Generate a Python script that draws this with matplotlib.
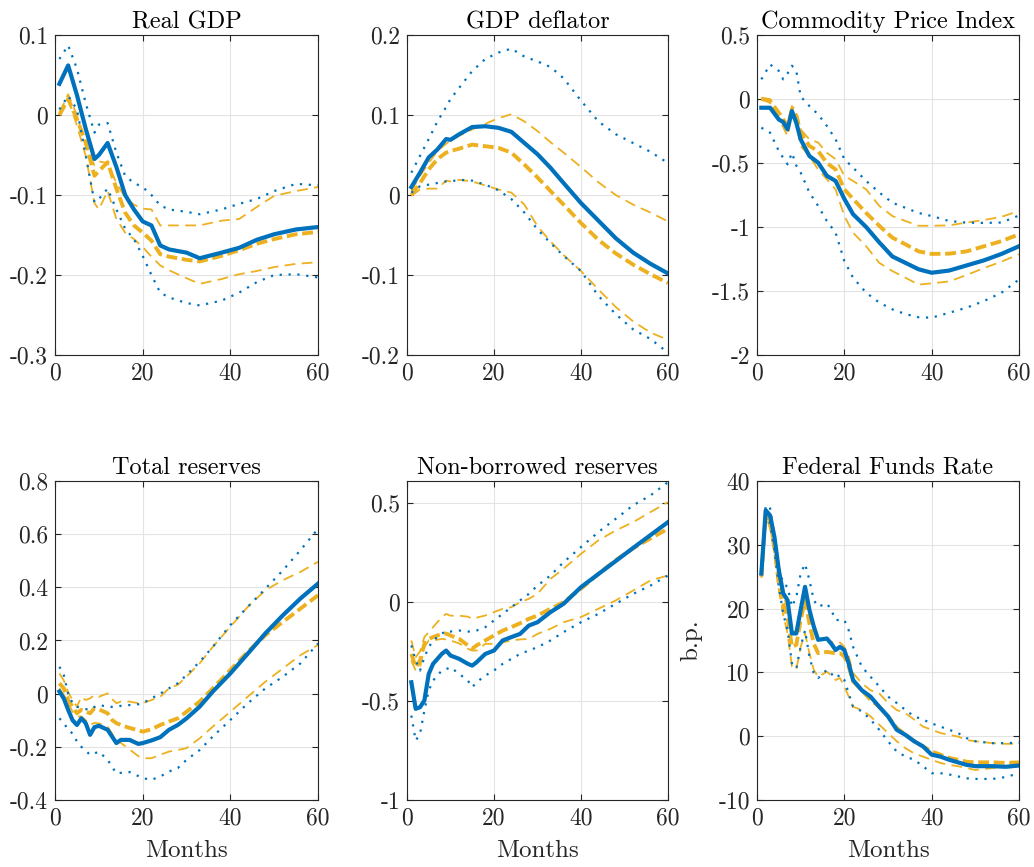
import numpy as np
import matplotlib
matplotlib.use('Agg')
import matplotlib.pyplot as plt
from matplotlib.ticker import FuncFormatter

plt.rcParams['font.family'] = ['cmr10', 'DejaVu Serif']
plt.rcParams['axes.unicode_minus'] = False

BLUE = '#0072BD'
ORANGE = '#EDB120'
DARK = '#262626'

# ---- Real GDP ----
gdp_m = [1, 3, 5, 7, 9, 10, 12, 14, 16, 18, 20, 22, 24, 26, 30, 33, 38, 42, 46, 50, 55, 60]
gdp_b_med = [0.039, 0.062, 0.025, -0.017, -0.055, -0.050, -0.035, -0.065, -0.100, -0.118, -0.133,
             -0.138, -0.163, -0.168, -0.172, -0.179, -0.172, -0.166, -0.156, -0.149, -0.143, -0.140]
gdp_b_hi = [0.070, 0.087, 0.058, 0.015, -0.022, -0.012, -0.010, -0.047, -0.076, -0.085, -0.090,
            -0.100, -0.113, -0.118, -0.121, -0.124, -0.118, -0.111, -0.105, -0.095, -0.086, -0.088]
gdp_b_lo = [0.007, 0.024, 0.007, -0.050, -0.109, -0.105, -0.092, -0.118, -0.142, -0.155, -0.176,
            -0.200, -0.222, -0.228, -0.235, -0.238, -0.232, -0.222, -0.209, -0.200, -0.199, -0.203]
gdp_o_med = [0.000, 0.020, -0.005, -0.034, -0.076, -0.070, -0.059, -0.092, -0.122, -0.138, -0.147,
             -0.157, -0.174, -0.177, -0.181, -0.183, -0.176, -0.169, -0.161, -0.155, -0.149, -0.146]
gdp_o_hi = [0.003, 0.026, 0.000, -0.038, -0.063, -0.058, -0.060, -0.085, -0.103, -0.112, -0.117,
            -0.118, -0.138, -0.138, -0.138, -0.138, -0.132, -0.130, -0.115, -0.101, -0.095, -0.090]
gdp_o_lo = [0.001, 0.020, -0.013, -0.051, -0.110, -0.118, -0.095, -0.130, -0.147, -0.155, -0.165,
            -0.177, -0.188, -0.194, -0.204, -0.211, -0.205, -0.199, -0.195, -0.190, -0.186, -0.184]

# ---- GDP deflator ----
def_m = [1, 3, 5, 7, 9, 10, 12, 15, 18, 21, 24, 27, 30, 33, 36, 40, 44, 48, 52, 56, 60]
def_b_med = [0.010, 0.028, 0.047, 0.057, 0.070, 0.069, 0.076, 0.085, 0.086, 0.084, 0.079, 0.065,
             0.051, 0.034, 0.015, -0.010, -0.032, -0.054, -0.072, -0.086, -0.098]
def_b_hi = [0.028, 0.049, 0.070, 0.092, 0.110, 0.120, 0.134, 0.155, 0.170, 0.178, 0.183, 0.173,
            0.167, 0.160, 0.146, 0.118, 0.092, 0.076, 0.065, 0.054, 0.040]
def_b_lo = [0.003, 0.011, 0.013, 0.015, 0.017, 0.017, 0.019, 0.018, 0.013, 0.006, -0.005, -0.022,
            -0.043, -0.060, -0.076, -0.095, -0.126, -0.149, -0.168, -0.180, -0.197]
def_o_med = [0.000, 0.015, 0.032, 0.045, 0.053, 0.055, 0.058, 0.063, 0.061, 0.059, 0.053, 0.038,
             0.022, 0.005, -0.012, -0.035, -0.056, -0.073, -0.087, -0.099, -0.110]
def_o_hi = [0.005, 0.024, 0.040, 0.055, 0.064, 0.068, 0.074, 0.082, 0.089, 0.096, 0.101, 0.092,
            0.080, 0.066, 0.053, 0.035, 0.016, 0.000, -0.012, -0.022, -0.033]
def_o_lo = [-0.001, 0.007, 0.008, 0.008, 0.018, 0.017, 0.019, 0.017, 0.012, 0.007, 0.003, -0.012,
            -0.039, -0.058, -0.075, -0.095, -0.118, -0.140, -0.158, -0.172, -0.181]

# ---- Commodity Price Index ----
com_m = [1, 3, 5, 6, 7, 8, 9, 10, 12, 14, 16, 18, 20, 22, 25, 28, 31, 34, 37, 40, 44, 48, 52, 56, 60]
com_b_med = [-0.068, -0.068, -0.160, -0.180, -0.237, -0.094, -0.185, -0.315, -0.445, -0.497, -0.600,
             -0.640, -0.780, -0.900, -1.000, -1.120, -1.230, -1.280, -1.330, -1.357, -1.340, -1.300,
             -1.260, -1.210, -1.150]
com_b_hi = [0.154, 0.270, 0.220, 0.154, 0.200, 0.260, 0.220, 0.020, -0.055, -0.120, -0.210, -0.315,
            -0.470, -0.536, -0.640, -0.730, -0.810, -0.850, -0.890, -0.914, -0.953, -0.966, -0.968,
            -0.965, -0.910]
com_b_lo = [-0.224, -0.263, -0.406, -0.460, -0.510, -0.420, -0.520, -0.575, -0.730, -0.835, -0.953,
            -1.044, -1.265, -1.396, -1.513, -1.590, -1.643, -1.680, -1.705, -1.708, -1.670, -1.630,
            -1.578, -1.513, -1.410]
com_o_med = [0.000, -0.015, -0.120, -0.160, -0.210, -0.080, -0.130, -0.263, -0.367, -0.406, -0.500,
             -0.550, -0.706, -0.780, -0.890, -0.990, -1.083, -1.135, -1.190, -1.210, -1.208, -1.190,
             -1.150, -1.110, -1.057]
com_o_hi = [0.010, 0.000, -0.094, -0.140, -0.200, -0.055, -0.094, -0.237, -0.315, -0.340, -0.420,
            -0.470, -0.600, -0.640, -0.706, -0.835, -0.914, -0.953, -0.990, -0.990, -0.987, -0.965,
            -0.945, -0.920, -0.875]
com_o_lo = [0.000, -0.030, -0.146, -0.220, -0.290, -0.120, -0.190, -0.367, -0.445, -0.550, -0.627,
            -0.706, -0.914, -1.044, -1.150, -1.280, -1.344, -1.396, -1.450, -1.440, -1.425, -1.375,
            -1.320, -1.270, -1.213]

# ---- Total reserves ----
tr_m = [1, 2, 3, 4, 5, 6, 7, 8, 9, 10, 12, 13, 14, 15, 17, 19, 20, 22, 24, 26, 28, 30, 33, 36,
        40, 44, 48, 52, 56, 60]
tr_b_med = [0.008, -0.018, -0.061, -0.100, -0.118, -0.093, -0.111, -0.155, -0.126, -0.121, -0.136,
            -0.161, -0.186, -0.174, -0.174, -0.189, -0.186, -0.176, -0.164, -0.136, -0.118, -0.093,
            -0.049, 0.008, 0.076, 0.151, 0.227, 0.295, 0.358, 0.414]
tr_b_hi = [0.101, 0.070, 0.000, -0.036, -0.049, -0.055, -0.058, -0.061, -0.050, -0.043, -0.049,
           -0.050, -0.049, -0.046, -0.043, -0.040, -0.036, -0.018, 0.000, 0.020, 0.039, 0.070,
           0.120, 0.176, 0.258, 0.327, 0.395, 0.464, 0.540, 0.620]
tr_b_lo = [-0.093, -0.110, -0.136, -0.150, -0.180, -0.200, -0.215, -0.230, -0.225, -0.218, -0.249,
           -0.275, -0.300, -0.298, -0.295, -0.310, -0.318, -0.324, -0.312, -0.293, -0.280, -0.249,
           -0.212, -0.161, -0.099, -0.036, 0.020, 0.064, 0.114, 0.189]
tr_o_med = [0.039, 0.020, -0.024, -0.049, -0.074, -0.061, -0.068, -0.074, -0.055, -0.059, -0.074,
            -0.099, -0.111, -0.118, -0.129, -0.138, -0.143, -0.134, -0.118, -0.105, -0.093, -0.068,
            -0.030, 0.020, 0.089, 0.158, 0.220, 0.270, 0.320, 0.370]
tr_o_hi = [0.076, 0.050, 0.005, -0.024, -0.049, -0.012, -0.024, -0.018, -0.005, -0.012, 0.001,
           -0.020, -0.036, -0.030, -0.030, -0.036, -0.036, -0.024, -0.012, 0.020, 0.033, 0.064,
           0.114, 0.176, 0.252, 0.327, 0.389, 0.427, 0.458, 0.496]
tr_o_lo = [0.020, -0.005, -0.036, -0.068, -0.086, -0.086, -0.100, -0.118, -0.110, -0.112, -0.124,
           -0.150, -0.180, -0.185, -0.210, -0.235, -0.243, -0.243, -0.230, -0.218, -0.212, -0.205,
           -0.168, -0.124, -0.068, -0.011, 0.045, 0.095, 0.145, 0.183]

# ---- Non-borrowed reserves ----
nbr_m = [1, 2, 3, 4, 5, 6, 8, 9, 10, 12, 14, 15, 16, 18, 20, 22, 24, 26, 28, 30, 33, 36, 40, 44,
         48, 52, 56, 60]
nbr_b_med = [-0.406, -0.540, -0.532, -0.498, -0.364, -0.313, -0.263, -0.246, -0.271, -0.288, -0.313,
             -0.322, -0.305, -0.263, -0.246, -0.195, -0.178, -0.162, -0.120, -0.103, -0.052, -0.010,
             0.074, 0.140, 0.206, 0.272, 0.337, 0.402]
nbr_b_hi = [-0.220, -0.296, -0.347, -0.280, -0.229, -0.195, -0.162, -0.145, -0.150, -0.145, -0.150,
            -0.150, -0.145, -0.128, -0.094, -0.061, -0.027, 0.007, 0.040, 0.082, 0.133, 0.200,
            0.276, 0.352, 0.419, 0.487, 0.537, 0.604]
nbr_b_lo = [-0.574, -0.700, -0.667, -0.549, -0.448, -0.397, -0.347, -0.340, -0.330, -0.364, -0.397,
            -0.431, -0.406, -0.372, -0.347, -0.313, -0.288, -0.263, -0.246, -0.229, -0.195, -0.153,
            -0.103, -0.061, -0.010, 0.040, 0.082, 0.133]
nbr_o_med = [-0.263, -0.330, -0.296, -0.212, -0.187, -0.178, -0.162, -0.160, -0.170, -0.187, -0.220,
             -0.237, -0.220, -0.195, -0.170, -0.145, -0.128, -0.108, -0.086, -0.069, -0.035, -0.002,
             0.066, 0.141, 0.210, 0.270, 0.320, 0.369]
nbr_o_hi = [-0.195, -0.280, -0.250, -0.178, -0.153, -0.128, -0.077, -0.061, -0.070, -0.070, -0.075,
            -0.086, -0.080, -0.069, -0.052, -0.035, -0.027, -0.002, 0.015, 0.040, 0.116, 0.167,
            0.242, 0.310, 0.360, 0.402, 0.453, 0.503]
nbr_o_lo = [-0.296, -0.347, -0.330, -0.229, -0.195, -0.195, -0.187, -0.190, -0.195, -0.210, -0.237,
            -0.246, -0.246, -0.212, -0.212, -0.205, -0.195, -0.190, -0.187, -0.162, -0.136, -0.103,
            -0.077, -0.035, 0.007, 0.057, 0.108, 0.133]

# ---- Federal Funds Rate ----
ffr_m = [1, 2, 3, 4, 5, 6, 7, 8, 9, 10, 11, 12, 13, 14, 16, 17, 18, 19, 20, 21, 22, 24, 26, 28,
         30, 32, 34, 36, 38, 40, 42, 44, 46, 48, 50, 54, 57, 60]
ffr_b_med = [25.5, 35.4, 34.6, 31.2, 26.0, 22.4, 21.3, 16.1, 16.1, 19.8, 23.4, 19.8, 17.2, 15.1,
             15.3, 14.5, 13.5, 14.0, 13.5, 11.4, 8.8, 7.2, 6.2, 4.6, 3.1, 1.0, 0.2, -0.8, -1.6,
             -2.9, -3.2, -3.7, -4.1, -4.5, -4.7, -4.7, -4.8, -4.6]
ffr_b_hi = [25.8, 36.2, 35.7, 31.2, 26.5, 23.9, 23.4, 20.3, 21.8, 25.5, 27.0, 24.5, 21.3, 20.3,
            20.8, 19.8, 18.2, 18.2, 18.2, 16.6, 14.0, 10.9, 9.3, 7.8, 6.2, 5.2, 4.1, 3.1, 2.6,
            2.0, 1.5, 1.0, 0.5, -0.3, -0.8, -1.1, -1.1, -1.0]
ffr_b_lo = [25.2, 34.9, 33.3, 29.1, 23.4, 19.2, 16.6, 11.4, 10.6, 14.0, 16.6, 12.5, 9.9, 9.1,
            10.4, 9.8, 9.1, 9.6, 8.8, 6.7, 4.6, 3.9, 2.6, 1.0, -0.8, -2.4, -3.2, -3.7, -4.7,
            -5.8, -5.8, -6.0, -6.3, -6.6, -6.7, -6.7, -6.4, -5.8]
ffr_o_med = [25.0, 34.9, 33.8, 29.7, 23.9, 20.8, 18.7, 14.0, 14.3, 18.2, 21.3, 17.7, 14.5, 13.0,
             13.2, 13.1, 13.0, 13.0, 12.5, 10.9, 8.6, 7.2, 5.7, 4.6, 3.1, 1.3, 0.2, -0.8, -1.6,
             -2.4, -2.9, -3.4, -3.7, -4.0, -4.1, -4.1, -4.2, -4.1]
ffr_o_hi = [25.3, 35.1, 34.6, 30.7, 25.0, 21.8, 20.3, 16.1, 16.6, 20.3, 22.9, 19.8, 16.6, 15.1,
            15.1, 14.8, 14.5, 14.7, 14.0, 12.5, 9.9, 8.3, 7.2, 6.7, 5.2, 4.1, 3.6, 2.6, 1.5,
            1.0, 0.5, 0.2, -0.05, -0.6, -0.8, -1.1, -1.2, -1.2]
ffr_o_lo = [24.8, 34.6, 32.5, 28.4, 22.9, 19.0, 16.1, 10.9, 10.4, 14.0, 16.1, 13.0, 10.4, 9.3,
            10.1, 9.5, 8.8, 9.1, 7.8, 6.2, 4.6, 4.1, 3.1, 1.8, 0.5, -0.8, -1.9, -2.7, -3.2,
            -3.7, -4.2, -4.5, -4.7, -5.0, -5.3, -5.0, -4.8, -4.7]

panels = [
    ('Real GDP', gdp_m, gdp_b_med, gdp_b_hi, gdp_b_lo, gdp_o_med, gdp_o_hi, gdp_o_lo,
     (-0.3, 0.1), np.arange(-0.3, 0.11, 0.1)),
    ('GDP deflator', def_m, def_b_med, def_b_hi, def_b_lo, def_o_med, def_o_hi, def_o_lo,
     (-0.2, 0.2), np.arange(-0.2, 0.21, 0.1)),
    ('Commodity Price Index', com_m, com_b_med, com_b_hi, com_b_lo, com_o_med, com_o_hi, com_o_lo,
     (-2, 0.5), np.arange(-2, 0.51, 0.5)),
    ('Total reserves', tr_m, tr_b_med, tr_b_hi, tr_b_lo, tr_o_med, tr_o_hi, tr_o_lo,
     (-0.4, 0.8), np.arange(-0.4, 0.81, 0.2)),
    ('Non-borrowed reserves', nbr_m, nbr_b_med, nbr_b_hi, nbr_b_lo, nbr_o_med, nbr_o_hi, nbr_o_lo,
     (-1, 0.61), np.arange(-1, 0.51, 0.5)),
    ('Federal Funds Rate', ffr_m, ffr_b_med, ffr_b_hi, ffr_b_lo, ffr_o_med, ffr_o_hi, ffr_o_lo,
     (-10, 40), np.arange(-10, 41, 10)),
]

fig = plt.figure(figsize=(10.34, 8.67), dpi=100)
lefts = [0.0532, 0.3936, 0.7321]
widths = [0.2544, 0.2524, 0.2534]
bottoms = [0.5905, 0.0773]
heights = [0.3691, 0.368]

fmt = FuncFormatter(lambda v, p: '%g' % round(v, 6))

for i, (title, m, bmed, bhi, blo, omed, ohi, olo, ylim, yt) in enumerate(panels):
    r, c = divmod(i, 3)
    ax = fig.add_axes([lefts[c], bottoms[r], widths[c], heights[r]])
    # orange (second model)
    ax.plot(m, ohi, color=ORANGE, lw=1.3, dashes=(6, 3.5))
    ax.plot(m, olo, color=ORANGE, lw=1.3, dashes=(6, 3.5))
    ax.plot(m, omed, color=ORANGE, lw=2.8, dashes=(2.8, 1.2))
    # blue (baseline)
    ax.plot(m, bhi, color=BLUE, lw=1.6, dashes=(1, 3))
    ax.plot(m, blo, color=BLUE, lw=1.6, dashes=(1, 3))
    ax.plot(m, bmed, color=BLUE, lw=3.0)

    ax.set_xlim(0, 60)
    ax.set_ylim(*ylim)
    ax.set_xticks([0, 20, 40, 60])
    ax.set_yticks(yt)
    ax.yaxis.set_major_formatter(fmt)
    ax.grid(True, color='#E3E3E3', lw=0.8)
    ax.set_axisbelow(True)
    ax.tick_params(direction='in', top=True, right=True, length=4, width=0.8,
                   colors=DARK, labelsize=17, pad=5)
    for s in ax.spines.values():
        s.set_color(DARK)
        s.set_linewidth(0.8)
    ax.set_title(title, fontsize=17.5, color='black', pad=5)
    if r == 1:
        ax.set_xlabel('Months', fontsize=18, color=DARK, labelpad=8)
    if i == 5:
        ax.set_ylabel('b.p.', fontsize=18, color=DARK, labelpad=12)

fig.savefig('out.png', dpi=100)
